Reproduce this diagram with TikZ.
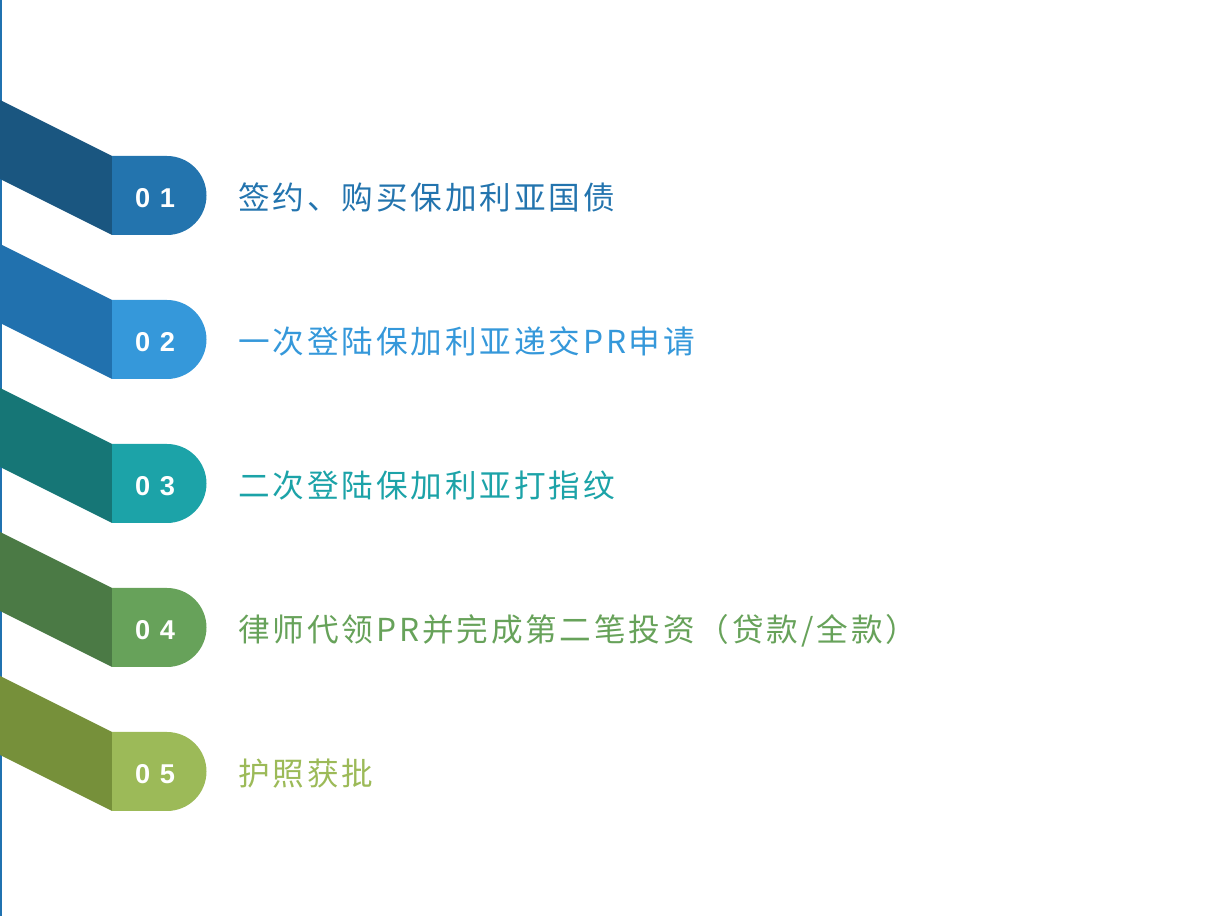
\documentclass[tikz,border=0pt]{standalone}
\usepackage{fontspec}
\setmainfont{Liberation Sans}
\newfontfamily\cjk[LetterSpace=9]{Noto Sans CJK SC}
\usetikzlibrary{positioning}
\definecolor{StBar}{HTML}{2072B0}
\definecolor{StOneDark}{HTML}{1A5680}
\definecolor{StOne}{HTML}{2374AE}
\definecolor{StTwoDark}{HTML}{2171AE}
\definecolor{StTwo}{HTML}{3598DA}
\definecolor{StThreeDark}{HTML}{167676}
\definecolor{StThree}{HTML}{1CA3A8}
\definecolor{StFourDark}{HTML}{4B7A45}
\definecolor{StFour}{HTML}{67A25A}
\definecolor{StFiveDark}{HTML}{76903A}
\definecolor{StFive}{HTML}{9CBA58}
\tikzset{
  num/.style={text=white,font=\fontsize{15.5}{18}\selectfont\bfseries,inner sep=0pt},
  steptext/.style={anchor=base west,inner sep=0pt,font=\cjk\fontsize{18}{21}\selectfont},
}

\begin{document}
\begin{tikzpicture}[x=.2mm,y=.2mm]
    \useasboundingbox (0,0) rectangle (1231,916);
    \fill[StBar] (0,0) rectangle (2.5,916);

    % 01
    \fill[StOneDark] (0,816)--(112,760)--(112,681)--(0,737)--cycle;
    \fill[StOne] (112,681)--(112,760)--(167,760) arc (90:-90:39.5)--cycle;
    \node[num] (n1) at (155,718) {0\kern5.5pt1};
    \node[steptext,text=StOne] (t1) at (238,706.5) {签约、购买保加利亚国债};

    % 02
    \fill[StTwoDark] (0,672)--(112,616)--(112,537)--(0,593)--cycle;
    \fill[StTwo] (112,537)--(112,616)--(167,616) arc (90:-90:39.5)--cycle;
    \node[num] (n2) at (155,574) {0\kern5.5pt2};
    \node[steptext,text=StTwo] (t2) at (238,562.5) {一次登陆保加利亚递交PR申请};

    % 03
    \fill[StThreeDark] (0,528)--(112,472)--(112,393)--(0,449)--cycle;
    \fill[StThree] (112,393)--(112,472)--(167,472) arc (90:-90:39.5)--cycle;
    \node[num] (n3) at (155,430) {0\kern5.5pt3};
    \node[steptext,text=StThree] (t3) at (238,418.5) {二次登陆保加利亚打指纹};

    % 04
    \fill[StFourDark] (0,384)--(112,328)--(112,249)--(0,305)--cycle;
    \fill[StFour] (112,249)--(112,328)--(167,328) arc (90:-90:39.5)--cycle;
    \node[num] (n4) at (155,286) {0\kern5.5pt4};
    \node[steptext,text=StFour] (t4) at (238,274.5) {律师代领PR并完成第二笔投资（贷款/全款）};

    % 05
    \fill[StFiveDark] (0,240)--(112,184)--(112,105)--(0,161)--cycle;
    \fill[StFive] (112,105)--(112,184)--(167,184) arc (90:-90:39.5)--cycle;
    \node[num] (n5) at (155,142) {0\kern5.5pt5};
    \node[steptext,text=StFive] (t5) at (238,130.5) {护照获批};
  \end{tikzpicture}
\end{document}
